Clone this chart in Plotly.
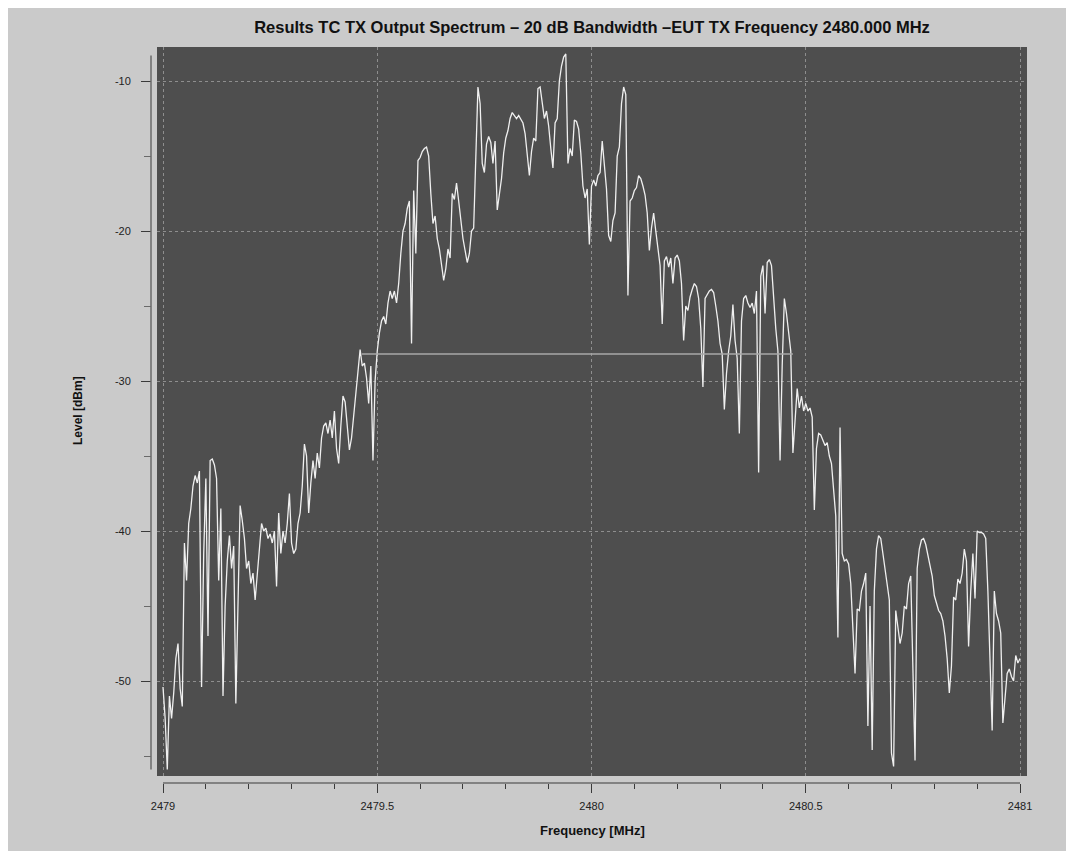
import numpy as np
import plotly.graph_objects as go

# ---------------- data ----------------
freq_start = 2479.0          # MHz
freq_step = 0.005            # MHz (analyzer sweep grid)

level_dbm = [
    # 2479.0 - 2479.095
    -50.4, -52.5, -55.9, -51.0, -52.5, -50.8, -48.5, -47.5, -50.5, -51.7,
    -40.8, -43.3, -39.5, -38.5, -37.0, -36.3, -36.8, -36.0, -50.4, -41.5,
    # 2479.1
    -36.5, -47.0, -35.3, -35.2, -35.6, -36.5, -43.3, -38.5, -51.0, -45.0,
    -42.0, -40.3, -42.5, -41.0, -51.5, -45.0, -38.3, -39.3, -40.5, -42.5,
    # 2479.2
    -42.0, -43.5, -42.8, -44.6, -43.0, -41.0, -39.5, -40.0, -39.8, -40.5,
    -40.2, -40.8, -40.0, -43.7, -38.8, -41.5, -40.0, -40.8, -39.5, -37.5,
    # 2479.3
    -40.8, -41.5, -41.2, -39.5, -38.8, -37.0, -34.2, -35.0, -38.8, -36.8,
    -35.3, -36.5, -34.8, -35.8, -33.8, -33.0, -32.8, -33.5, -32.6, -33.8,
    # 2479.4
    -32.0, -34.5, -35.5, -33.0, -31.0, -31.4, -33.0, -34.6, -33.8, -32.3,
    -31.0, -29.5, -27.9, -29.0, -28.8, -29.8, -31.5, -29.0, -35.3, -30.0,
    # 2479.5
    -28.0, -26.8, -26.0, -25.7, -26.2, -24.8, -24.0, -24.5, -24.0, -24.8,
    -23.5, -21.5, -20.0, -19.5, -18.5, -18.0, -27.5, -17.3, -21.5, -15.3,
    # 2479.6
    -15.1, -14.7, -14.5, -14.4, -15.0, -17.5, -19.5, -19.0, -20.5, -21.2,
    -22.3, -23.3, -22.5, -21.2, -21.8, -17.5, -17.9, -16.8, -18.0, -19.5,
    # 2479.7
    -20.5, -21.3, -22.1, -21.5, -20.0, -19.8, -15.0, -10.4, -11.5, -15.5,
    -16.1, -14.2, -13.7, -14.1, -15.5, -14.0, -18.6, -17.5, -16.5, -14.8,
    # 2479.8
    -13.8, -13.3, -12.5, -12.1, -12.3, -12.5, -12.3, -12.6, -12.8, -13.5,
    -14.8, -16.3, -14.7, -13.8, -14.0, -10.5, -10.4, -11.6, -12.5, -12.0,
    # 2479.9
    -13.0, -14.5, -15.8, -12.8, -12.5, -10.0, -9.0, -8.4, -8.2, -15.5,
    -14.5, -15.0, -12.6, -12.7, -13.2, -14.8, -17.0, -17.8, -17.2, -20.9,
    # 2480.0
    -17.0, -16.6, -17.0, -16.3, -16.1, -14.0, -15.5, -17.2, -20.3, -20.7,
    -19.3, -18.8, -15.0, -14.4, -11.5, -10.4, -10.9, -24.3, -18.0, -17.8,
    # 2480.1
    -17.3, -17.1, -16.3, -16.5, -17.0, -17.6, -18.8, -21.3, -19.8, -18.8,
    -20.0, -21.0, -22.3, -26.2, -22.0, -21.7, -22.4, -21.8, -23.5, -21.8,
    # 2480.2
    -21.6, -22.0, -23.5, -27.3, -25.0, -25.3, -24.4, -23.9, -23.5, -23.7,
    -24.5, -26.5, -30.4, -24.5, -24.2, -24.0, -23.9, -24.1, -25.0, -26.0,
    # 2480.3
    -27.5, -28.2, -31.9, -29.5, -28.0, -27.0, -24.9, -27.3, -28.5, -33.5,
    -26.0, -24.5, -24.3, -24.8, -25.1, -24.8, -25.5, -24.0, -36.1, -23.0,
    # 2480.4
    -22.3, -25.5, -22.1, -21.9, -22.3, -24.5, -26.5, -28.0, -35.3, -29.0,
    -24.5, -25.5, -27.0, -28.0, -34.8, -32.5, -30.5, -31.8, -31.0, -32.0,
    # 2480.5
    -31.5, -32.0, -31.8, -32.4, -38.6, -34.5, -33.5, -33.6, -34.0, -34.3,
    -34.1, -35.0, -35.5, -37.0, -39.0, -47.1, -33.1, -41.5, -42.0, -41.9,
    # 2480.6
    -42.2, -43.5, -46.5, -49.5, -45.2, -45.3, -44.0, -43.5, -42.8, -53.0,
    -45.0, -54.6, -44.0, -41.2, -40.3, -40.5, -41.5, -42.5, -43.5, -44.6,
    # 2480.7
    -54.8, -55.7, -45.3, -46.5, -47.5, -46.8, -45.0, -45.2, -43.5, -43.0,
    -48.4, -55.3, -42.5, -41.2, -40.6, -40.5, -40.9, -41.5, -42.3, -43.0,
    # 2480.8
    -44.3, -44.8, -45.3, -45.5, -46.0, -47.0, -48.5, -50.8, -49.0, -44.4,
    -44.6, -43.2, -43.5, -42.8, -41.2, -42.0, -47.7, -44.0, -41.5, -44.5,
    # 2480.9
    -40.0, -40.1, -40.1, -40.2, -40.5, -44.0, -48.0, -53.3, -44.0, -45.5,
    -46.0, -46.8, -52.8, -51.0, -49.5, -49.2, -49.7, -50.0, -48.3, -48.8,
    # 2481.0
    -48.5,
]

freq_mhz = freq_start + freq_step * np.arange(len(level_dbm))

# 20 dB bandwidth marker
bw_freq = [2479.464, 2480.470]
bw_level = [-28.2, -28.2]

x_tickvals = [2479, 2479.5, 2480, 2480.5, 2481]
x_ticktext = ["2479", "2479.5", "2480", "2480.5", "2481"]
y_tickvals = [-10, -20, -30, -40, -50]
y_ticktext = ["-10", "-20", "-30", "-40", "-50"]

title_text = "Results TC TX Output Spectrum – 20 dB Bandwidth –EUT TX Frequency 2480.000 MHz"
x_title = "Frequency [MHz]"
y_title = "Level [dBm]"

# ---------------- styling / layout ----------------
W, H = 1074, 851
OFF = 8  # page body margin
m_l, m_r, m_t, m_b = 151 - OFF, W - (1027 - OFF), 47 - OFF, H - (783 - OFF)
PW, PH = W - m_l - m_r, H - m_t - m_b
x_range = [2478.986, 2481.0163]
y_range = [-56.333, -7.733]
x_dom0 = 6 / PW
y_dom0 = 7 / PH

font_fam = "Liberation Sans, Arial, sans-serif"
axis_col = "#6a6a6a"
tick_col = "#3a3a3a"

fig = go.Figure()
fig.add_trace(go.Scatter(
    x=freq_mhz, y=level_dbm, mode="lines",
    line=dict(color="#f0f0f0", width=1.3),
    showlegend=False, hoverinfo="x+y",
))
fig.add_trace(go.Scatter(
    x=bw_freq, y=bw_level, mode="lines",
    line=dict(color="#a9a9a9", width=1.6),
    showlegend=False,
))

def xpaper(v):
    return x_dom0 + (v - x_range[0]) / (x_range[1] - x_range[0]) * (1 - x_dom0)

def ypaper(v):
    return y_dom0 + (v - y_range[0]) / (y_range[1] - y_range[0]) * (1 - y_dom0)

shapes = [
    dict(type="line", xref="paper", yref="paper",
         x0=xpaper(x_tickvals[0]), x1=xpaper(x_tickvals[-1]), y0=0, y1=0,
         line=dict(color=axis_col, width=1.5)),
    dict(type="line", xref="paper", yref="paper",
         x0=0, x1=0, y0=ypaper(-55.9), y1=ypaper(-8.3),
         line=dict(color=axis_col, width=1.5)),
]

fig.update_layout(
    width=W, height=H,
    margin=dict(l=m_l, r=m_r, t=m_t, b=m_b, pad=0),
    paper_bgcolor="#cacaca",
    plot_bgcolor="#4e4e4e",
    shapes=shapes,
    title=dict(text=title_text, x=(592 - OFF) / W, xref="container", xanchor="center",
               y=1 - (27 - OFF) / H, yref="container", yanchor="middle",
               font=dict(family=font_fam, size=16.5, color="#111111", weight="bold")),
    xaxis=dict(
        domain=[x_dom0, 1], range=x_range, anchor="free", position=0,
        showline=False, zeroline=False,
        tickmode="array", tickvals=x_tickvals, ticktext=x_ticktext,
        ticks="outside", ticklen=9, tickwidth=1.2, tickcolor=tick_col,
        minor=dict(tickmode="linear", tick0=2479, dtick=0.1, ticks="outside",
                   ticklen=5, tickwidth=1, tickcolor=tick_col, showgrid=False),
        showgrid=True, gridcolor="#8e8e8e", griddash="dot", gridwidth=1,
        tickfont=dict(family=font_fam, size=11, color="#222222"),
        ticklabelstandoff=4,
    ),
    yaxis=dict(
        domain=[y_dom0, 1], range=y_range, anchor="free", position=0,
        showline=False, zeroline=False,
        tickmode="array", tickvals=y_tickvals, ticktext=y_ticktext,
        ticks="outside", ticklen=10, tickwidth=1.2, tickcolor=tick_col,
        minor=dict(tickmode="linear", tick0=-55, dtick=5, ticks="outside",
                   ticklen=7, tickwidth=1, tickcolor=axis_col, showgrid=False),
        showgrid=True, gridcolor="#8e8e8e", griddash="dot", gridwidth=1,
        tickfont=dict(family=font_fam, size=11, color="#222222"),
        ticklabelstandoff=8,
    ),
    annotations=[
        dict(text=x_title, xref="paper", yref="paper",
             x=(592 - OFF - m_l) / PW, y=-(830 - 783) / PH,
             xanchor="center", yanchor="middle", showarrow=False,
             font=dict(family=font_fam, size=13, color="#111111", weight="bold")),
        dict(text=y_title, xref="paper", yref="paper",
             x=(78 - 151) / PW, y=1 - (411 - 47) / PH,
             xanchor="center", yanchor="middle", textangle=-90, showarrow=False,
             font=dict(family=font_fam, size=12, color="#111111", weight="bold")),
    ],
)

fig.write_html("out.html")
